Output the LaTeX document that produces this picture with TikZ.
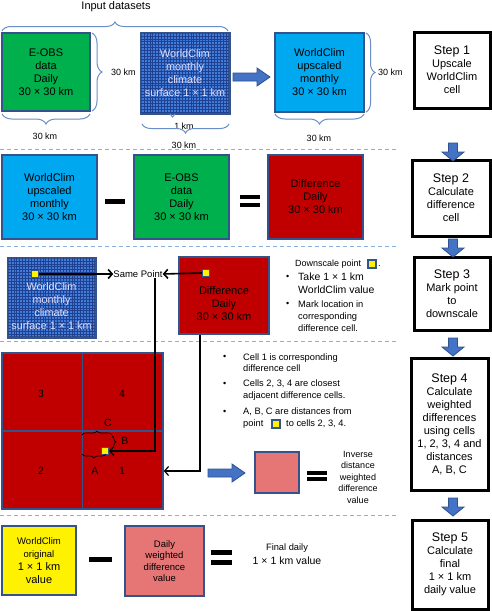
\documentclass[tikz,border=0pt]{standalone}
\usepackage{fontspec}
\setmainfont{Liberation Sans}
\usetikzlibrary{decorations.pathreplacing, arrows.meta}
\definecolor{eobsgreen}{RGB}{0,176,76}
\definecolor{upblue}{RGB}{0,168,240}
\definecolor{diffred}{RGB}{192,0,0}
\definecolor{wpink}{RGB}{230,118,118}
\definecolor{boxblue}{RGB}{52,82,140}
\definecolor{gridfill}{RGB}{66,124,216}
\definecolor{gridline}{RGB}{30,66,145}
\definecolor{bracecol}{RGB}{105,142,200}
\definecolor{dashcol}{RGB}{140,176,222}
\definecolor{arrfill}{RGB}{68,114,196}
\definecolor{arrdraw}{RGB}{47,82,143}
\newcommand\fs[2]{\fontsize{#1}{#2}\selectfont}
\tikzset{
  cell/.style={draw=boxblue, line width=1.5pt, align=center, inner sep=0pt, font=\fs{11}{13}},
  stepbox/.style={draw=black, line width=3pt, fill=white, align=center, inner sep=0pt, font=\fs{11}{13}},
  ysq/.style={draw=boxblue, line width=1.2pt, fill=yellow, minimum size=7pt, inner sep=0pt},
  gridln/.style={draw=gridline, line width=0.6pt},
  gridtext/.style={align=center, text=white!88!blue, font=\fs{10.8}{13}},
  bracez/.style={draw=bracecol, line width=1pt, decorate, decoration={brace, amplitude=#1}},
  smallbrace/.style={draw=black, line width=0.7pt, decorate, decoration={brace, amplitude=#1}},
  dashsep/.style={draw=dashcol, line width=1pt, dash pattern=on 4pt off 3pt},
  blockarr/.style={draw=arrdraw, fill=arrfill, line width=0.8pt},
  bar/.style={fill=black, draw=none},
  conn/.style={draw=black, line width=1.2pt, -{Straight Barb[length=4pt, width=9pt]}},
  lbl/.style={inner sep=0pt, font=\fs{9}{11}},
  txt/.style={inner sep=0pt, align=left, anchor=west},
  downarr/.pic={\draw[blockarr] (-4.5,0) -- (4.5,0) -- (4.5,9) -- (11,9) -- (0,18) -- (-11,9) -- (-4.5,9) -- cycle;},
  rightarr/.pic={\draw[blockarr] (0,-4) -- (24,-4) -- (24,-9) -- (37,0) -- (24,9) -- (24,4) -- (0,4) -- cycle;}
}
\begin{document}
\begin{tikzpicture}[x=1pt, y=-1pt]
\useasboundingbox[fill=white] (0,0) rectangle (492,611);

% ---------------- Row 1 ----------------
\node[font=\fs{11}{13}, inner sep=0pt] (inputlbl) at (116,7) {Input datasets};
\draw[bracez=9pt] (2,31) -- (228,31);

\node[cell, fill=eobsgreen, minimum width=88pt, minimum height=78pt] (eobsA) at (46,72)
  {E-OBS\\data\\Daily\\30 × 30 km};
\draw[bracez=10pt] (92,33) -- (92,111);
\node[lbl, anchor=west] (kmA1) at (111,72) {30 km};
\draw[bracez=10pt] (90,114) -- (2,114);
\node[lbl] (kmA2) at (45,136) {30 km};

\node[draw=boxblue, line width=1.5pt, fill=gridfill, minimum width=88pt, minimum height=80pt, inner sep=0pt] (gridA) at (185,73) {};
\foreach \i in {1,...,29} {\draw[gridln] (141+\i*2.933,33) -- ++(0,80);}
\foreach \j in {1,...,27} {\draw[gridln] (141,33+\j*2.93) -- ++(88,0);}
\draw[boxblue, line width=1.5pt] (gridA.north west) rectangle (gridA.south east);
\node[gridtext] (gridAtxt) at (185,73) {WorldClim\\monthly\\climate\\surface 1 × 1 km};
\draw[bracez=3pt] (175,114) -- (170,114);
\node[lbl] (kmB1) at (184,126) {1 km};
\draw[bracez=9pt] (229,124) -- (142,124);
\node[lbl] (kmB2) at (184,145) {30 km};

\pic at (233,77) {rightarr};

\node[cell, fill=upblue, minimum width=89pt, minimum height=79pt] (upA) at (319.5,72.5)
  {WorldClim\\upscaled\\monthly\\30 × 30 km};
\draw[bracez=9pt] (366,33) -- (366,112);
\node[lbl, anchor=west] (kmC1) at (378,72) {30 km};
\draw[bracez=10pt] (364,114) -- (275,114);
\node[lbl] (kmC2) at (319,138) {30 km};

\node[stepbox, minimum width=76pt, minimum height=76pt] (step1) at (452,70)
  {\fs{12.5}{14}Step 1\\\fs{11}{13}Upscale\\WorldClim\\cell};

\draw[dashsep] (0,149) -- (398,149);

% ---------------- Row 2 ----------------
\node[cell, fill=upblue, minimum width=95pt, minimum height=84pt] (upB) at (49.5,197)
  {WorldClim\\upscaled\\monthly\\30 × 30 km};
\fill[bar] (105,199) rectangle (125,203.5);
\node[cell, fill=eobsgreen, minimum width=95pt, minimum height=84pt] (eobsB) at (181.5,197)
  {E-OBS\\data\\Daily\\30 × 30 km};
\fill[bar] (240,195) rectangle (260,199);
\fill[bar] (240,203) rectangle (260,207);
\node[cell, fill=diffred, minimum width=95pt, minimum height=84pt] (diffB) at (315.5,197)
  {Difference\\Daily\\30 × 30 km};
\node[stepbox, minimum width=78pt, minimum height=76pt] (step2) at (451,198)
  {\fs{12.5}{14}Step 2\\\fs{11}{13}Calculate\\difference\\cell};

\draw[dashsep] (0,246) -- (398,246);

% ---------------- Row 3 ----------------
\node[draw=boxblue, line width=1.5pt, fill=gridfill, minimum width=87pt, minimum height=79pt, inner sep=0pt] (gridC) at (51.5,297.5) {};
\foreach \i in {1,...,29} {\draw[gridln] (8+\i*2.9,258) -- ++(0,79);}
\foreach \j in {1,...,26} {\draw[gridln] (8,258+\j*2.93) -- ++(87,0);}
\draw[boxblue, line width=1.5pt] (gridC.north west) rectangle (gridC.south east);
\node[gridtext] (gridCtxt) at (51.5,306) {WorldClim\\monthly\\climate\\surface 1 × 1 km};
\node[ysq] (ysq1) at (35,274) {};

\node[lbl, font=\fs{9.5}{11}] (samept) at (138,274) {Same Point};

\node[cell, fill=diffred, minimum width=90pt, minimum height=77pt] (diffC) at (224,295.5) {};
\node[align=center, font=\fs{11}{13}, inner sep=0pt] (diffCtxt) at (224,304) {Difference\\Daily\\30 × 30 km};
\node[ysq] (ysq2) at (206,273) {};

\draw[conn, line width=1.6pt] (ysq1.east) -- (samept.west);
\draw[conn, line width=1.6pt] (ysq2.west) -- (samept.east);

\node[txt, font=\fs{9}{11}] (dsp) at (295,264) {Downscale point};
\node[ysq, minimum size=8pt] (ysq4) at (372,264) {};
\node[txt, font=\fs{9.3}{11}] (dspdot) at (378,266) {.};
\node[txt, font=\fs{9}{11}] (b1) at (286,277) {•};
\node[txt, font=\fs{10.5}{13}] (t1) at (298,283.5) {Take 1 × 1 km\\WorldClim value};
\node[txt, font=\fs{9}{11}] (b2) at (286,304) {•};
\node[txt, font=\fs{9.3}{12}] (t2) at (298,316) {Mark location in\\corresponding\\difference cell.};

\node[stepbox, minimum width=76pt, minimum height=73pt] (step3) at (452,293.5)
  {\fs{12.5}{14}Step 3\\\fs{11}{13}Mark point\\to\\downscale};

\draw[dashsep] (0,341) -- (398,341);

% ---------------- Row 4 ----------------
\node[cell, fill=diffred, minimum width=161pt, minimum height=156pt] (bigred) at (82.5,431) {};
\draw[boxblue, line width=1.5pt] (bigred.north) -- (bigred.south);
\draw[boxblue, line width=1.5pt] (bigred.west) -- (bigred.east);
\node[font=\fs{10.5}{12}] (c3) at (41,394) {3};
\node[font=\fs{10.5}{12}] (c4) at (122,394) {4};
\node[font=\fs{10.5}{12}] (c2) at (41,471) {2};
\node[font=\fs{10.5}{12}] (c1) at (122,471) {1};
\node[ysq] (ysq3) at (105,451) {};
\draw[smallbrace=4pt] (82,435) -- (112,435);
\node[font=\fs{10.5}{12}, inner sep=0pt] (lC) at (108,423) {C};
\draw[smallbrace=4pt] (112,436) -- (112,448);
\node[font=\fs{10.5}{12}, inner sep=0pt] (lB) at (125,441) {B};
\draw[smallbrace=4pt] (106,454) -- (82,454);
\node[font=\fs{10.5}{12}, inner sep=0pt] (lA) at (95,471) {A};

\draw[conn] ([xshift=17pt]samept.south) |- (ysq3.east);
\draw[conn] ([xshift=-24pt]diffC.south) |- ([yshift=-40pt]bigred.east);

\node[txt, font=\fs{9}{11}] (b3) at (223,357) {•};
\node[txt, font=\fs{9.3}{11.5}] (t3) at (243,362.5) {Cell 1 is corresponding\\difference cell};
\node[txt, font=\fs{9}{11}] (b4) at (223,384) {•};
\node[txt, font=\fs{9.3}{11.5}] (t4) at (243,390) {Cells 2, 3, 4 are closest\\adjacent difference cells.};
\node[txt, font=\fs{9}{11}] (b5) at (223,412) {•};
\node[txt, font=\fs{9.3}{11.5}] (t5) at (243,412) {A, B, C are distances from};
\node[txt, font=\fs{9.3}{11.5}] (t5b) at (243,424) {point};
\node[ysq, minimum size=8pt] (ysq5) at (276,424) {};
\node[txt, font=\fs{9.3}{11.5}] (t5c) at (286,424) {to cells 2, 3, 4.};

\pic at (208,473) {rightarr};
\node[cell, fill=wpink, minimum width=44pt, minimum height=41pt] (pinkA) at (277,472.5) {};
\fill[bar] (307,470.5) rectangle (327,474.5);
\fill[bar] (307,477) rectangle (327,481);
\node[align=center, inner sep=0pt, font=\fs{9}{11.5}] (idw) at (358,477) {Inverse\\distance\\weighted\\difference\\value};

\node[stepbox, minimum width=77pt, minimum height=132pt] (step4) at (449.5,424)
  {\fs{12.5}{14}Step 4\\\fs{11}{13}Calculate\\weighted\\differences\\using cells\\1, 2, 3, 4 and\\distances\\A, B, C};

\draw[dashsep] (0,515) -- (398,515);

% ---------------- Row 5 ----------------
\node[cell, fill=yellow, minimum width=74pt, minimum height=69pt] (yelA) at (39,560.5)
  {\fs{9.5}{11}WorldClim\\\fs{9.5}{11}original\\\fs{11}{13}1 × 1 km\\\fs{11}{13}value};
\fill[bar] (89,557) rectangle (112,561.5);
\node[cell, fill=wpink, minimum width=79pt, minimum height=70pt, font=\fs{9.5}{11.5}] (pinkB) at (164.5,561)
  {Daily\\weighted\\difference\\value};
\fill[bar] (211,550) rectangle (232,554.5);
\fill[bar] (211,560) rectangle (232,564.5);
\node[inner sep=0pt, font=\fs{9.3}{11}] (fd1) at (287,548) {Final daily};
\node[inner sep=0pt, font=\fs{10.5}{12}] (fd2) at (287,561) {1 × 1 km value};

\node[stepbox, minimum width=76pt, minimum height=89pt] (step5) at (450,564.5)
  {\fs{12.5}{14}Step 5\\\fs{11}{13}Calculate\\final\\1 × 1 km\\daily value};

% ---------------- Step arrows ----------------
\pic at (453,143) {downarr};
\pic at (453,239) {downarr};
\pic at (453,338) {downarr};
\pic at (453,498) {downarr};
\end{tikzpicture}
\end{document}
